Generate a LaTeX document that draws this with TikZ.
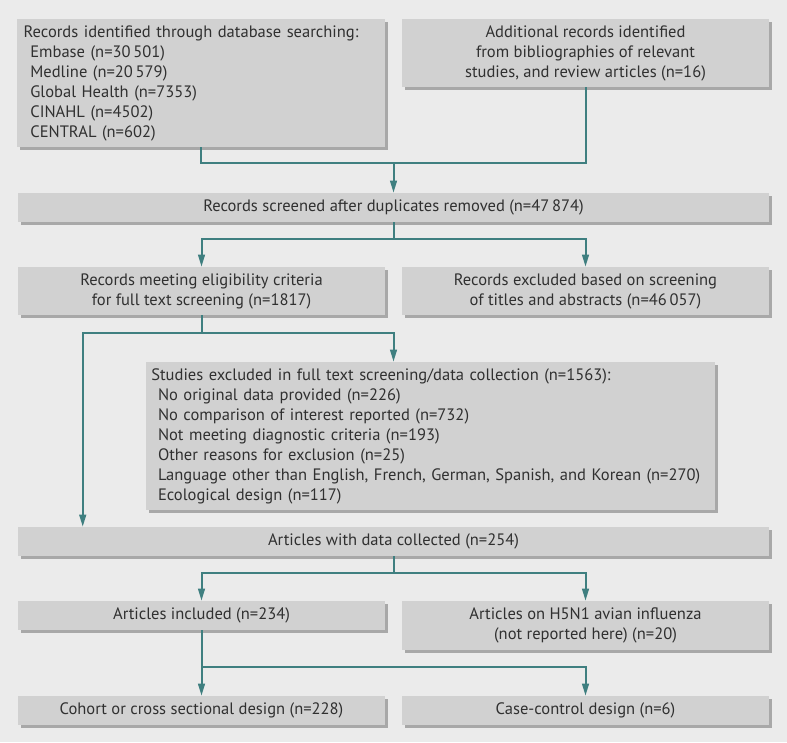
\documentclass[tikz,border=0pt]{standalone}
\usepackage{fontspec}
\setmainfont{PT Sans}
\usepackage{tikz}
\usetikzlibrary{arrows.meta,positioning,calc,shadows}
\definecolor{flowteal}{HTML}{3F7F80}
\definecolor{flowbg}{HTML}{EBEBEB}
\definecolor{flowbox}{HTML}{D1D1D1}
\definecolor{flowshade}{HTML}{A8A8A8}
\definecolor{flowtext}{HTML}{303030}

\begin{document}
\begin{tikzpicture}[x=0.75pt,y=-0.75pt,
    box/.style  = {rectangle,fill=flowbox,text=flowtext,align=center,
                   font=\fontsize{12.4}{15}\selectfont,inner sep=0pt,
                   minimum height=21.75pt,minimum width=275.25pt,
                   drop shadow={shadow xshift=2pt,shadow yshift=-2pt,
                                fill=flowshade,opacity=1}},
    wide/.style = {box,minimum width=563.25pt},
    list/.style = {box,align=left,inner xsep=5pt},
    fl/.style   = {-{Triangle[length=9pt,width=5pt]},flowteal,line width=1.5pt},
    ln/.style   = {flowteal,line width=1.5pt},
  ]
  \fill[flowbg] (0,0) rectangle (787,742);

  % Identification
  \node[list,text width=266pt,minimum height=96pt] (rec) at (201,83)
       {Records identified through database searching:\\
        \hspace*{5pt}Embase (n=30\,501)\\
        \hspace*{5pt}Medline (n=20\,579)\\
        \hspace*{5pt}Global Health (n=7353)\\
        \hspace*{5pt}CINAHL (n=4502)\\
        \hspace*{5pt}CENTRAL (n=602)};
  \node[box,minimum height=51pt] (add) at (585.5,53)
       {Additional records identified\\ from bibliographies of relevant\\
        studies, and review articles (n=16)};
  \node[wide] (scr) at (393.5,207.5)
       {Records screened after duplicates removed (n=47\,874)};

  % Screening
  \node[box,minimum height=36pt] (elig) at (201.5,291)
       {Records meeting eligibility criteria\\ for full text screening (n=1817)};
  \node[box,minimum height=36pt] (excl) at (585.5,291)
       {Records excluded based on screening\\ of titles and abstracts (n=46\,057)};
  \node[list,inner xsep=4pt,text width=418.75pt,minimum height=111pt] (stud) at (430.5,436)
       {Studies excluded in full text screening/data collection (n=1563):\\
        \hspace*{5pt}No original data provided (n=226)\\
        \hspace*{5pt}No comparison of interest reported (n=732)\\
        \hspace*{5pt}Not meeting diagnostic criteria (n=193)\\
        \hspace*{5pt}Other reasons for exclusion (n=25)\\
        \hspace*{5pt}Language other than English, French, German, Spanish, and Korean (n=270)\\
        \hspace*{5pt}Ecological design (n=117)};

  % Inclusion
  \node[wide] (data) at (393.5,541.5) {Articles with data collected (n=254)};
  \node[box] (incl) at (201.5,615.5) {Articles included (n=234)};
  \node[box,minimum height=36.75pt] (hfn) at (585.5,625.5)
       {Articles on H5N1 avian influenza\\ (not reported here) (n=20)};
  \node[box] (coh) at (201.5,710.5) {Cohort or cross sectional design (n=228)};
  \node[box] (cc)  at (585.5,710.5) {Case-control design (n=6)};

  \coordinate (j1) at (393.5,163);
  \coordinate (j2) at (393.5,239);
  \coordinate (j3) at (201.5,333);
  \coordinate (j4) at (393.5,573);
  \coordinate (j5) at (201.5,667);

  \draw[ln] (rec.south) |- (j1) -| (add.south);
  \draw[fl] (j1) -- (scr.north);

  \draw[ln] (scr.south) -- (j2);
  \draw[fl] (j2) -| (elig.north);
  \draw[fl] (j2) -| (excl.north);

  \draw[ln] (elig.south) -- (j3);
  \draw[fl] (j3) -| (stud.north -| scr.south);
  \draw[fl] (j3) -| ($(data.north west)+(65,0)$);

  \draw[ln] (data.south) -- (j4);
  \draw[fl] (j4) -| (incl.north);
  \draw[fl] (j4) -| (hfn.north);

  \draw[ln] (incl.south) -- (j5);
  \draw[fl] (j5) -- (coh.north);
  \draw[fl] (j5) -| (cc.north);

\end{tikzpicture}
\end{document}
